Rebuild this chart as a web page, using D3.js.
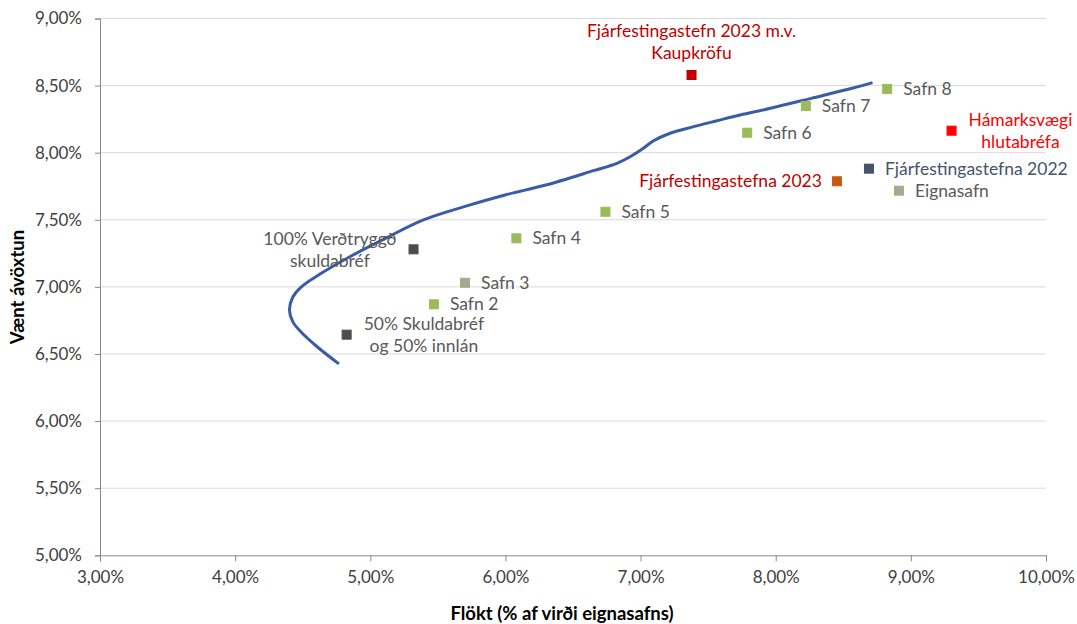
<!DOCTYPE html>
<html><head><meta charset="utf-8">
<script src="https://cdn.jsdelivr.net/npm/d3@7/dist/d3.min.js"></script>
<style>
html,body{margin:0;padding:0;background:#fff;}
svg{display:block;font-family:Lato,"Open Sans",sans-serif;}
</style></head>
<body><svg id="c" width="1077" height="624"></svg>
<script>
// ---- data ----
const xTicks = [0.03,0.04,0.05,0.06,0.07,0.08,0.09,0.10];
const yTicks = [0.05,0.055,0.06,0.065,0.07,0.075,0.08,0.085,0.09];
const xTitle = "Flökt (% af virði eignasafns)";
const yTitle = "Vænt ávöxtun";

// efficient frontier (volatility, expected return)
const frontierX = [4.768,4.607,4.486,4.426,4.402,4.426,4.486,4.637,4.849,5.090,5.393,5.695,5.997,6.299,6.651,6.825,6.923,7.010,7.096,7.219,7.392,7.565,7.737,7.961,8.263,8.565,8.716];
const frontierY = [6.426,6.554,6.666,6.741,6.828,6.923,6.997,7.101,7.225,7.350,7.499,7.598,7.685,7.759,7.866,7.921,7.970,8.025,8.089,8.145,8.194,8.238,8.281,8.331,8.405,8.480,8.522];

// portfolio points
const pointNames = ["Safn 2","Safn 3","Safn 4","Safn 5","Safn 6","Safn 7","Safn 8",
  "Eignasafn","Fjárfestingastefna 2022","Fjárfestingastefna 2023",
  "Fjárfestingastefn 2023 m.v.|Kaupkröfu","Hámarksvægi|hlutabréfa",
  "100% Verðtryggð|skuldabréf","50% Skuldabréf|og 50% innlán"];
const pointX = [5.471,5.701,6.081,6.740,7.789,8.223,8.825,8.912,8.690,8.453,7.377,9.301,5.320,4.825];
const pointY = [6.870,7.031,7.362,7.560,8.149,8.348,8.475,7.717,7.881,7.787,8.579,8.164,7.280,6.644];
const pointFill = ["#9BBB59","#A5A5A5","#9BBB59","#9BBB59","#9BBB59","#9BBB59","#9BBB59",
  "#A5A5A5","#44546A","#C55A11","#C00000","#FF0000","#4D4D4D","#4D4D4D"];
const pointStroke = ["#9BBB59","#9BBB59","#9BBB59","#9BBB59","#9BBB59","#9BBB59","#9BBB59",
  "#9BBB59","#44546A","#C55A11","#C00000","#FF0000","#4D4D4D","#4D4D4D"];
const labelColor = ["#595959","#595959","#595959","#595959","#595959","#595959","#595959",
  "#595959","#44546A","#C00000","#C00000","#FF0000","#595959","#595959"];
// label placement: r = right of marker, l = left, t = above (centered), rc/lc = centered block right/left
const labelPos = ["r","r","r","r","r","r","r","r","r","l","t","rc","lc","rc"];

// ---- layout ----
const svg = d3.select("#c");
const L = 100, R = 1046, T = 18.5, B = 555.3;
const x = d3.scaleLinear().domain([0.03,0.10]).range([L,R]);
const y = d3.scaleLinear().domain([0.05,0.09]).range([B,T]);
const fmt = v => d3.format(".2f")(v*100).replace(".", ",") + "%";

// gridlines
svg.append("g").selectAll("line").data(yTicks.slice(1)).join("line")
  .attr("x1",L).attr("x2",R).attr("y1",d=>y(d)).attr("y2",d=>y(d))
  .attr("stroke","#D9D9D9").attr("stroke-width",1);

// axes
const xAxis = d3.axisBottom(x).tickValues(xTicks).tickFormat(fmt).tickSize(6).tickPadding(10);
const gx = svg.append("g").attr("transform",`translate(0,${B})`).call(xAxis);
gx.select(".domain").attr("stroke","#898989");
gx.selectAll(".tick line").attr("stroke","#898989");
gx.selectAll("text").attr("font-size",17).attr("fill","#404040").attr("font-family","Lato");

const yAxis = d3.axisLeft(y).tickValues(yTicks).tickFormat(fmt).tickSize(5).tickPadding(13);
const gy = svg.append("g").attr("transform",`translate(${L},0)`).call(yAxis);
gy.select(".domain").attr("stroke","#898989");
gy.selectAll(".tick line").attr("stroke","#898989");
gy.selectAll("text").attr("font-size",17).attr("fill","#404040").attr("font-family","Lato");

// titles
svg.append("text").attr("x",562).attr("y",620).attr("text-anchor","middle")
  .attr("font-size",18.5).attr("font-weight","bold").attr("fill","#000").text(xTitle);
svg.append("text").attr("transform","translate(24,287) rotate(-90)").attr("text-anchor","middle")
  .attr("font-size",18.5).attr("font-weight","bold").attr("fill","#000").text(yTitle);

// frontier curve
const fr = frontierX.map((v,i)=>[v/100, frontierY[i]/100]);
svg.append("path").datum(fr)
  .attr("d", d3.line().x(d=>x(d[0])).y(d=>y(d[1])).curve(d3.curveCatmullRom.alpha(0.5)))
  .attr("fill","none").attr("stroke","#3A5CA6").attr("stroke-width",3).attr("stroke-linecap","butt");

// markers
const pts = pointNames.map((n,i)=>({n, x:pointX[i]/100, y:pointY[i]/100, f:pointFill[i], s:pointStroke[i], c:labelColor[i], p:labelPos[i]}));
const ms = 9;
svg.append("g").selectAll("rect").data(pts).join("rect")
  .attr("x",d=>x(d.x)-ms/2).attr("y",d=>y(d.y)-ms/2).attr("width",ms).attr("height",ms)
  .attr("fill",d=>d.f).attr("stroke",d=>d.s).attr("stroke-width",1);

// labels
const lh = 22;
const lg = svg.append("g").attr("font-size",17.5);
pts.forEach(d=>{
  const lines = d.n.split("|");
  const px = x(d.x), py = y(d.y);
  const t = lg.append("text").attr("fill",d.c);
  let ax, anchor, y0;
  if (d.p === "r") { ax = px + 16; anchor = "start"; y0 = py; }
  else if (d.p === "l") { ax = px - 15; anchor = "end"; y0 = py; }
  else if (d.p === "t") { ax = px; anchor = "middle"; y0 = py - 44; }
  else if (d.p === "rc") { anchor = "middle"; y0 = py - lh/2; }
  else if (d.p === "lc") { anchor = "middle"; y0 = py - lh/2 + 1; }
  t.attr("text-anchor",anchor);
  lines.forEach((s,k)=>{
    t.append("tspan").attr("x",0).attr("y",y0 + k*lh).attr("dy","0.35em").text(s);
  });
  if (d.p === "rc" || d.p === "lc") {
    const w = t.node().getBBox().width;
    ax = d.p === "rc" ? px + 17 + w/2 : px - 17 - w/2;
  }
  t.selectAll("tspan").attr("x",ax);
});
</script></body></html>
